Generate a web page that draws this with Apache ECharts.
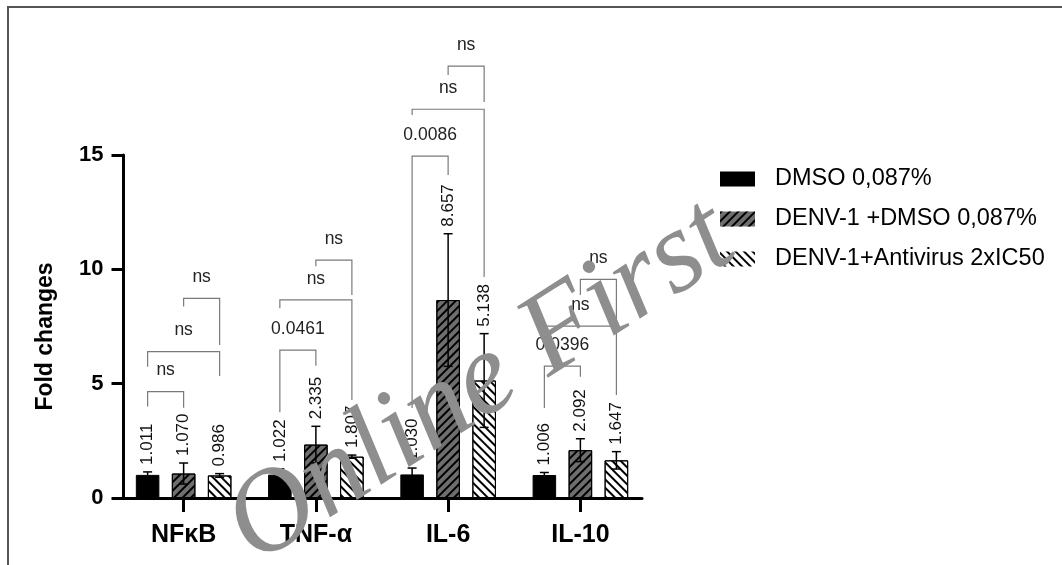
<!DOCTYPE html>
<html><head><meta charset="utf-8">
<script src="https://cdn.jsdelivr.net/npm/echarts@6/dist/echarts.min.js"></script>
<style>html,body{margin:0;padding:0;background:#fff}#c{width:1062px;height:565px}</style>
</head><body><div id="c"></div>
<script>
// ---- data ----
const categories = ['NFκB', 'TNF-α', 'IL-6', 'IL-10'];
const seriesNames = ['DMSO 0,087%', 'DENV-1 +DMSO 0,087%', 'DENV-1+Antivirus 2xIC50'];
const dmso = [1.011, 1.022, 1.030, 1.006];
const denvDmso = [1.070, 2.335, 8.657, 2.092];
const denvAntiviral = [0.986, 1.807, 5.138, 1.647];
const dmsoSd = [0.13, 0.25, 0.28, 0.11];
const denvDmsoSd = [0.46, 0.80, 2.90, 0.50];
const denvAntiviralSd = [0.08, 0.07, 2.05, 0.38];
const yTicks = [0, 5, 10, 15];
// significance brackets: [category, fromSeries, toSeries, bracketLevel, leftEnd, rightEnd, label]
const brackets = [
  [0, 0, 1, 4.65, 4.00, 3.95, 'ns'],
  [0, 0, 2, 6.40, 5.74, 5.33, 'ns'],
  [0, 1, 2, 8.73, 8.37, 6.69, 'ns'],
  [1, 0, 1, 6.47, 3.75, 5.78, '0.0461'],
  [1, 0, 2, 8.66, 8.30, 4.29, 'ns'],
  [1, 1, 2, 10.40, 10.14, 8.88, 'ns'],
  [2, 0, 1, 14.95, 3.94, 14.12, '0.0086'],
  [2, 0, 2, 17.00, 16.75, 9.66, 'ns'],
  [2, 1, 2, 18.89, 18.50, 17.32, 'ns'],
  [3, 0, 1, 5.77, 3.94, 5.30, '0.0396'],
  [3, 0, 2, 7.52, 7.27, 4.50, 'ns'],
  [3, 1, 2, 9.56, 8.88, 7.52, 'ns']
];
// ---- end data ----

const means = [dmso, denvDmso, denvAntiviral];
const sds = [dmsoSd, denvDmsoSd, denvAntiviralSd];
const FONT = '"Liberation Sans", Arial, Helvetica, sans-serif';
const barWidthRatio = 0.178, barGapRatio = 0.53;
function barOffset(api, s) {
  const band = api.size([1, 0])[0];
  const w = band * barWidthRatio;
  return (s - 1) * w * (1 + barGapRatio);
}
const errData = [];
for (let s = 0; s < 3; s++) for (let c = 0; c < categories.length; c++) errData.push([c, means[s][c], sds[s][c], s]);

const decalBase = { symbol: 'rect', symbolSize: 1, dashArrayX: [1, 0], dashArrayY: [2, 4], color: '#000' };
const barStyles = [
  { color: '#000', borderColor: '#000', borderWidth: 1 },
  { color: '#6e6e6e', borderColor: '#000', borderWidth: 1, decal: Object.assign({}, decalBase, { rotation: -Math.PI / 4 }) },
  { color: '#fff', borderColor: '#000', borderWidth: 1, decal: Object.assign({}, decalBase, { rotation: Math.PI / 4 }) }
];

const chart = echarts.init(document.getElementById('c'), null, { renderer: 'canvas' });
const option = {
  animation: false,
  backgroundColor: '#fff',
  textStyle: { fontFamily: FONT },
  grid: [
    { left: 117.5, width: 529, top: 155, bottom: 67 },
    { left: 123.5, width: 518.5, top: 155, bottom: 67 }
  ],
  xAxis: [
    { type: 'category', gridIndex: 0, data: categories, boundaryGap: true,
      axisLine: { show: false },
      axisTick: { show: true, alignWithLabel: true, length: 14, lineStyle: { color: '#000', width: 3 } },
      axisLabel: { color: '#000', fontSize: 25, fontWeight: 'bold', fontFamily: FONT, margin: 25 },
      splitLine: { show: false } },
    { type: 'value', gridIndex: 1, min: 0, max: 1,
      axisLine: { show: true, lineStyle: { color: '#000', width: 3 } },
      axisTick: { show: false }, axisLabel: { show: false }, splitLine: { show: false } }
  ],
  yAxis: [
    { type: 'value', gridIndex: 0, min: 0, max: 15, interval: 5, show: false },
    { type: 'value', gridIndex: 1, min: yTicks[0], max: yTicks[yTicks.length - 1], interval: 5,
      axisLine: { show: true, lineStyle: { color: '#000', width: 3 } },
      axisTick: { show: true, length: 12, lineStyle: { color: '#000', width: 3 } },
      axisLabel: { color: '#000', fontSize: 22, fontWeight: 'bold', fontFamily: FONT, margin: 20 },
      splitLine: { show: false },
      name: 'Fold changes', nameLocation: 'middle', nameGap: 66,
      nameTextStyle: { color: '#000', fontSize: 23, fontWeight: 'bold', fontFamily: FONT, padding: [0, 20, 0, 0] } }
  ],
  legend: {
    orient: 'vertical', left: 720, top: 167, padding: 0, itemWidth: 35, itemHeight: 15, itemGap: 16,
    icon: 'rect',
    itemStyle: { borderWidth: 0 },
    textStyle: { fontSize: 23.5, color: '#000', fontFamily: FONT, lineHeight: 23, padding: [0, 0, 0, 15] },
    data: seriesNames
  },
  series: [
    ...seriesNames.map((name, s) => ({
      name, type: 'bar', xAxisIndex: 0, yAxisIndex: 0,
      data: means[s], barWidth: (barWidthRatio * 100) + '%', barGap: (barGapRatio * 100) + '%',
      itemStyle: barStyles[s], z: 2
    })),
    {
      type: 'custom', name: 'errors', xAxisIndex: 0, yAxisIndex: 0, z: 5, silent: true,
      data: errData, encode: { x: 0, y: 1 },
      renderItem(params, api) {
        const c = api.value(0), m = api.value(1), sd = api.value(2), s = api.value(3);
        const x = api.coord([c, 0])[0] + barOffset(api, s);
        const yTop = api.coord([c, m + sd])[1];
        const yBot = api.coord([c, Math.max(m - sd, 0)])[1];
        const cap = 4.5;
        const ls = { stroke: '#000', lineWidth: 1.5 };
        return { type: 'group', children: [
          { type: 'line', shape: { x1: x, y1: yTop, x2: x, y2: yBot }, style: ls },
          { type: 'line', shape: { x1: x - cap, y1: yTop, x2: x + cap, y2: yTop }, style: ls },
          { type: 'line', shape: { x1: x - cap, y1: yBot, x2: x + cap, y2: yBot }, style: ls },
          { type: 'text', x: x, y: yTop - 7, rotation: Math.PI / 2,
            style: { text: m.toFixed(3), align: 'left', verticalAlign: 'middle', fontSize: 17, fontFamily: FONT, fill: '#111' } }
        ] };
      }
    },
    {
      type: 'custom', name: 'brackets', xAxisIndex: 0, yAxisIndex: 0, z: 4, silent: true,
      data: brackets.map(b => [b[0], b[3]]), encode: { x: 0, y: 1 },
      renderItem(params, api) {
        const b = brackets[params.dataIndex];
        const x0 = api.coord([b[0], 0])[0];
        const xL = x0 + barOffset(api, b[1]);
        const xR = x0 + barOffset(api, b[2]);
        const yH = api.coord([b[0], b[3]])[1];
        const yL = api.coord([b[0], b[4]])[1];
        const yR = api.coord([b[0], b[5]])[1];
        return { type: 'group', children: [
          { type: 'polyline', shape: { points: [[xL, yL], [xL, yH], [xR, yH], [xR, yR]] },
            style: { stroke: '#7a7a7a', lineWidth: 1.2, fill: null } },
          { type: 'text', x: (xL + xR) / 2, y: yH - 21,
            style: { text: b[6], align: 'center', verticalAlign: 'middle', fontSize: 17.5, fontFamily: FONT, fill: '#222' } }
        ] };
      }
    }
  ],
  graphic: [
    { type: 'rect', z: -10, shape: { x: 8, y: 7, width: 2000, height: 2000 },
      style: { fill: null, stroke: '#555', lineWidth: 2 } },
    { type: 'text', z: 100, x: 481, y: 384, rotation: 0.57,
      style: { text: 'Online First', font: 'italic 117px "Liberation Serif", "DejaVu Serif", serif',
        fill: '#8e8e8e', align: 'center', verticalAlign: 'middle' } }
  ]
};
chart.setOption(option);
</script>
</body></html>
